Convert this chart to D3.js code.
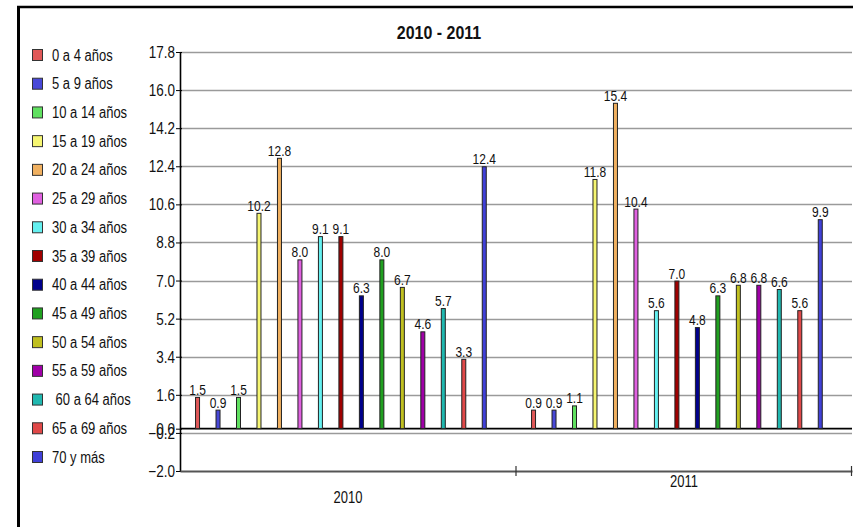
<!DOCTYPE html>
<html>
<head>
<meta charset="utf-8">
<script src="https://cdn.jsdelivr.net/npm/d3@7"></script>
<style>
  html, body { margin: 0; padding: 0; background: #fff; }
  svg { display: block; }
  text { font-family: "Liberation Sans", Arial, sans-serif; white-space: pre; }
</style>
</head>
<body>
<svg id="chart" width="853" height="527"></svg>
<script>
const title = "2010 - 2011";
const years = ["2010", "2011"];
const series = ["0 a 4 años", "5 a 9 años", "10 a 14 años", "15 a 19 años", "20 a 24 años",
  "25 a 29 años", "30 a 34 años", "35 a 39 años", "40 a 44 años", "45 a 49 años",
  "50 a 54 años", "55 a 59 años", " 60 a 64 años", "65 a 69 años", "70 y más"];
const colors = ["#e05858", "#4848d8", "#60e060", "#f6f672", "#f0b060",
  "#e060e0", "#64f0f0", "#a00000", "#00008c", "#20a020",
  "#c0c020", "#a000a8", "#20b8b0", "#e04848", "#4040d8"];
const values2010 = [1.5, 0.9, 1.5, 10.2, 12.8, 8.0, 9.1, 9.1, 6.3, 8.0, 6.7, 4.6, 5.7, 3.3, 12.4];
const values2011 = [0.9, 0.9, 1.1, 11.8, 15.4, 10.4, 5.6, 7.0, 4.8, 6.3, 6.8, 6.8, 6.6, 5.6, 9.9];
const yTicks = [-2.0, -0.2, 0.0, 1.6, 3.4, 5.2, 7.0, 8.8, 10.6, 12.4, 14.2, 16.0, 17.8];

const valuesByYear = { "2010": values2010, "2011": values2011 };
const SY = 1.2; // vertical stretch of the lettering

const svg = d3.select("#chart");

// helper: stretched text placed at (x, y)
function stext(g, x, yy, str, size, anchor, extra) {
  const t = g.append("text")
    .attr("transform", `translate(${x},${yy}) scale(1,${SY})`)
    .attr("text-anchor", anchor || "start")
    .attr("font-size", size).attr("fill", "#111").text(str);
  if (extra) extra(t);
  return t;
}

// background + frame
svg.append("rect").attr("x", 0).attr("y", 0).attr("width", 853).attr("height", 527).attr("fill", "#fff");
svg.append("line").attr("x1", 17).attr("x2", 853).attr("y1", 7).attr("y2", 7)
  .attr("stroke", "#000").attr("stroke-width", 2.5);
svg.append("line").attr("x1", 18.5).attr("x2", 18.5).attr("y1", 6).attr("y2", 527)
  .attr("stroke", "#000").attr("stroke-width", 3);

const plotLeft = 180, plotRight = 852;
const y = d3.scaleLinear().domain([-2.0, 17.8]).range([471, 52]);
const x0 = d3.scaleBand().domain(years).range([plotLeft, plotRight]).padding(0);
const x1 = d3.scaleBand().domain(d3.range(series.length)).range([7.3, 7.3 + 15 * 20.48]).padding(0);
const barW = 5;

// gridlines
const gridVals = yTicks.filter(v => v !== -2.0 && v !== 0.0);
svg.append("g").selectAll("line").data(gridVals).join("line")
  .attr("x1", plotLeft).attr("x2", plotRight)
  .attr("y1", d => Math.round(y(d)) + 0.5).attr("y2", d => Math.round(y(d)) + 0.5)
  .attr("stroke", "#9a9a9a").attr("stroke-width", 1.6);

// y axis
const yAxis = d3.axisLeft(y).tickValues(yTicks).tickFormat(d3.format(".1f")).tickSize(4).tickSizeOuter(0);
const gy = svg.append("g").attr("transform", `translate(${plotLeft},0)`).call(yAxis);
gy.select(".domain").attr("stroke", "#000").attr("stroke-width", 1.6);
gy.selectAll(".tick line").attr("stroke", "#000").attr("x2", 2).attr("x1", -4);
gy.selectAll(".tick text")
  .attr("font-size", 13.5).attr("fill", "#111")
  .attr("font-family", "Liberation Sans, Arial, sans-serif")
  .attr("x", null).attr("dy", null)
  .attr("transform", `translate(-5,0) scale(1,${SY}) translate(0,4.6)`);

// x axis at -2.0
const xAxis = d3.axisBottom(x0).tickSize(0).tickSizeOuter(0);
const gx = svg.append("g").attr("transform", `translate(0,${y(-2.0)})`).call(xAxis);
gx.select(".domain").attr("stroke", "#555").attr("stroke-width", 2);
gx.selectAll(".tick text").remove();
// category separators
const seps = [x0("2011"), plotRight - 0.5];
svg.append("g").selectAll("line").data(seps).join("line")
  .attr("x1", d => d).attr("x2", d => d)
  .attr("y1", y(-2.0) - 5).attr("y2", y(-2.0) + 5)
  .attr("stroke", "#333").attr("stroke-width", 1.2);
// category labels (as in reference, at different heights)
const catLabelY = { "2010": 503, "2011": 487 };
const gc = svg.append("g");
years.forEach(yr => stext(gc, x0(yr) + x0.bandwidth() / 2, catLabelY[yr], yr, 13, "middle"));

// baseline at zero
svg.append("line").attr("x1", plotLeft).attr("x2", plotRight)
  .attr("y1", y(0)).attr("y2", y(0)).attr("stroke", "#000").attr("stroke-width", 1.8);

// bars
const barData = [];
years.forEach(yr => valuesByYear[yr].forEach((v, i) => barData.push({ yr, i, v })));
const bx = d => x0(d.yr) + x1(d.i) + x1.bandwidth() / 2 - barW / 2;
svg.append("g").selectAll("rect").data(barData).join("rect")
  .attr("x", d => bx(d) + 0.5)
  .attr("y", d => y(d.v) + 0.5)
  .attr("width", barW - 1)
  .attr("height", d => y(0) - y(d.v) - 0.5)
  .attr("fill", d => colors[d.i])
  .attr("stroke", "#222").attr("stroke-width", 1);

// value labels
const gl = svg.append("g");
barData.forEach(d => stext(gl, bx(d) + barW / 2, y(d.v) - 2, d3.format(".1f")(d.v), 12, "middle"));

// title
stext(svg, 439, 39, title, 16, "middle", t => t.attr("font-weight", "bold"));

// legend
const lg = svg.append("g");
const legY = d3.scaleLinear().domain([0, 14]).range([55, 457]);
series.forEach((s, i) => {
  lg.append("rect").attr("x", 32.5).attr("y", legY(i) - 5.5).attr("width", 10).attr("height", 11)
    .attr("fill", colors[i]).attr("stroke", "#333").attr("stroke-width", 1);
  stext(lg, 52, legY(i) + 5.6, s, 13, "start");
});
</script>
</body>
</html>
